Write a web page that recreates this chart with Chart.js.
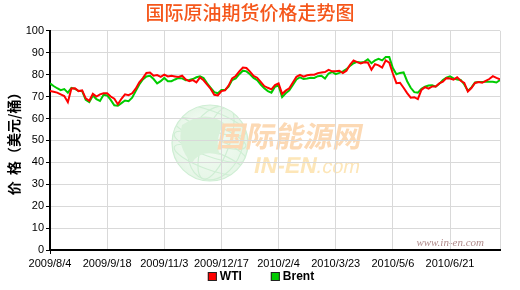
<!DOCTYPE html>
<html><head><meta charset="utf-8">
<script src="https://cdn.jsdelivr.net/npm/chart.js@4/dist/chart.umd.min.js"></script>
<style>html,body{margin:0;padding:0;background:#fff}#wrap{width:520px;height:290px}</style>
</head><body><div id="wrap"><canvas id="c" width="520" height="290"></canvas></div>
<script>
const chartTitle = '国际原油期货价格走势图';
const yTitle = '价  格（美元/桶）';
const tickLabels = ['2009/8/4','2009/9/18','2009/11/3','2009/12/17','2010/2/4','2010/3/23','2010/5/6','2010/6/21'];
const tickPositions = [0,16,32,48,64,80,96,112];
const lastIndex = 126;
const seriesNames = ['WTI','Brent'];
const wti = [72.5,72.2,71.8,71,70.2,67.4,73.7,73.8,72.5,72.8,69.2,68.1,71.3,70,71,71.5,
71.5,70,69,66.5,69,71,70.6,71.5,73.6,76.5,78.4,80.8,81,79.5,79.8,79,
80,79.2,79.5,79.2,78.9,79.5,77.8,77,77.5,76.5,78.7,77.4,75.4,73.5,70.8,70.5,
72.5,72.8,75,78.3,79.4,81.5,83.2,83,81.4,79.4,78.6,76.7,74.8,74,73.3,75.2,
76,71.2,72.7,73.8,76.4,79,79.9,79.1,79.7,79.9,80,80.7,81,81.2,82.2,81.5,
81.5,81.8,80.7,81.8,84.5,86.5,85.7,85.1,85.6,85.5,82.2,84.8,84.2,83.2,86.5,85.5,
80.5,76.1,76.3,74,71.6,69.5,69.7,68.8,73,74.3,73.6,74.6,74.6,76,76.8,78.4,
78.2,77.7,78.8,77.2,76.2,72.3,73.9,76.2,76.6,76.3,77.2,78,79.3,78.5,77.9];
const brent = [76,74.8,73.8,72.9,73.4,71.8,74,73.5,72.5,72.5,68.5,67.5,70.5,68.8,68,70.8,
70.5,68.5,66,65.8,67,68.2,67.9,69.5,72.5,75.5,77.8,79.2,79.5,78,76,77,
78.5,77,77,77.8,78.5,78.3,77.4,77.6,78,78.8,79.2,78.5,76,74,72,71.5,
73,73,74.5,77.5,78.3,80.2,81.8,81.5,80.2,78.5,77.5,75.5,73.8,72.5,71.8,74.5,
75,69.8,71.5,72.8,75.3,77.8,78.8,78,78.2,78.6,78.5,79.3,79.5,78.2,80.5,81.2,
80.2,80.8,81.5,82.5,84,85.2,85.8,85.5,85.8,87,85.2,86.5,87.2,86.5,88,88,
83,80.2,80.8,81,77,74,72,71.8,73.5,74.5,75,75.2,74.5,75.8,77.5,78.6,
79.2,78.3,77.8,77.6,75.5,72.6,74.2,76.4,76.6,76.7,76.8,76.8,76.8,76.4,77.5];
const seriesColors = ['#FF0000','#00CC00'];

const watermark = {
  id: 'watermark',
  beforeDraw(chart) {
    const ctx = chart.ctx;
    ctx.save();
    const cx = 210, cy = 143, r = 38;
    const g = ctx.createRadialGradient(cx - 10, cy - 10, 5, cx, cy, r);
    g.addColorStop(0, '#f6fcf6'); g.addColorStop(1, '#e6f6e7');
    ctx.beginPath(); ctx.arc(cx, cy, r, 0, Math.PI * 2); ctx.fillStyle = g; ctx.fill();
    ctx.strokeStyle = '#cfeed4'; ctx.lineWidth = 1.2;
    ctx.beginPath(); ctx.arc(cx, cy, r, 0, Math.PI * 2); ctx.stroke();
    ctx.beginPath(); ctx.arc(cx, cy, r, 0, Math.PI * 2); ctx.clip();
    [0.35, 0.7].forEach(f => { ctx.beginPath(); ctx.ellipse(cx + 6, cy, r * f, r, 0.35, 0, Math.PI * 2); ctx.stroke(); });
    [-0.6, -0.25, 0.1, 0.45].forEach(f => { ctx.beginPath(); ctx.ellipse(cx, cy + r * f, r, r * 0.25, 0.35, 0, Math.PI * 2); ctx.stroke(); });
    ctx.fillStyle = '#d8f1da';
    ctx.beginPath(); ctx.moveTo(cx - 28, cy - 18); ctx.quadraticCurveTo(cx - 5, cy - 34, cx + 14, cy - 20);
    ctx.quadraticCurveTo(cx + 4, cy - 2, cx + 10, cy + 12); ctx.quadraticCurveTo(cx - 10, cy + 6, cx - 18, cy + 20);
    ctx.quadraticCurveTo(cx - 34, cy + 4, cx - 28, cy - 18); ctx.fill();
    ctx.restore();
    ctx.save();
    ctx.setTransform(1, 0, -0.2, 1, 0, 0);
    ctx.fillStyle = '#fcd9b4';
    ctx.font = 'bold 29px "Noto Sans CJK SC"';
    ctx.textBaseline = 'middle';
    ctx.fillText('国际能源网', 218 + 0.2 * 136, 136);
    ctx.fillStyle = '#fde6b8';
    ctx.font = 'bold 23px "Liberation Sans"';
    ctx.textBaseline = 'alphabetic';
    ctx.fillText('IN-EN', 253 + 0.2 * 173, 173);
    const w = ctx.measureText('IN-EN').width;
    ctx.font = '20px "Liberation Sans"';
    ctx.fillText('.com', 253 + w + 0.2 * 173, 173);
    ctx.restore();
    ctx.save();
    ctx.fillStyle = '#b08a8a';
    ctx.font = 'italic 11px "Liberation Serif"';
    ctx.textBaseline = 'middle';
    ctx.textAlign = 'right';
    ctx.fillText('www.in-en.com', 484, 243);
    ctx.restore();
  }
};

const legendPlugin = {
  id: 'customLegend',
  afterDraw(chart) {
    const ctx = chart.ctx;
    ctx.save();
    ctx.font = 'bold 12px "Liberation Sans"';
    ctx.textBaseline = 'middle';
    const box = 9, gap = 3, spacing = 29, y = 276.5;
    const items = chart.data.datasets.map(d => ({ text: d.label, color: d.borderColor, w: ctx.measureText(d.label).width }));
    const total = items.reduce((s, it) => s + box + gap + it.w, 0) + spacing * (items.length - 1);
    let x = 261 - total / 2;
    items.forEach(it => {
      ctx.fillStyle = it.color;
      ctx.fillRect(x, y - box / 2, box, box);
      ctx.strokeStyle = '#222'; ctx.lineWidth = 1;
      ctx.strokeRect(x + 0.5, y - box / 2 + 0.5, box - 1, box - 1);
      ctx.fillStyle = '#000';
      ctx.fillText(it.text, x + box + gap, y);
      x += box + gap + it.w + spacing;
    });
    ctx.restore();
  }
};

new Chart(document.getElementById('c'), {
  type: 'line',
  data: {
    datasets: [
      { label: seriesNames[0], data: wti.map((v, i) => ({ x: i, y: v })), borderColor: seriesColors[0], backgroundColor: seriesColors[0], borderWidth: 2, pointRadius: 0, tension: 0 },
      { label: seriesNames[1], data: brent.map((v, i) => ({ x: i, y: v })), borderColor: seriesColors[1], backgroundColor: seriesColors[1], borderWidth: 2, pointRadius: 0, tension: 0 }
    ]
  },
  options: {
    responsive: false,
    animation: false,
    devicePixelRatio: 1,
    layout: { padding: { left: 0, right: 20, top: 0, bottom: 20 } },
    plugins: {
      legend: { display: false },
      tooltip: { enabled: false },
      title: { display: true, text: chartTitle, color: '#F5561A', font: { size: 19, family: '"Noto Sans CJK SC"', weight: '500' }, padding: { top: 1, bottom: 7 } }
    },
    scales: {
      x: {
        type: 'linear', min: 0, max: lastIndex,
        afterBuildTicks: s => { s.ticks = tickPositions.concat([lastIndex]).map(v => ({ value: v })); },
        afterFit: s => { s.height = 20; },
        ticks: { autoSkip: false, maxRotation: 0, minRotation: 0, padding: 3, color: '#000', font: { size: 11, family: '"Liberation Sans"' },
          callback: v => { const k = tickPositions.indexOf(v); return k >= 0 ? tickLabels[k] : ''; } },
        grid: { color: '#d9d9d9', lineWidth: 1, tickLength: 4, tickColor: c => (c.tick && c.tick.value === 0) ? '#000' : 'rgba(0,0,0,0)' },
        border: { color: '#000', width: 2 }
      },
      y: {
        min: 0, max: 100,
        afterFit: s => { s.width = 50; },
        ticks: { stepSize: 10, padding: 2, color: '#000', font: { size: 11, family: '"Liberation Sans"' } },
        grid: { color: '#d9d9d9', lineWidth: 1, tickLength: 4, tickColor: '#000' },
        border: { color: '#000', width: 2 },
        title: { display: true, text: yTitle, color: '#000', font: { size: 14, weight: 'bold', family: '"Noto Sans CJK SC"' }, padding: { top: 5, bottom: 0 } }
      }
    }
  },
  plugins: [watermark, legendPlugin]
});
</script></body></html>
